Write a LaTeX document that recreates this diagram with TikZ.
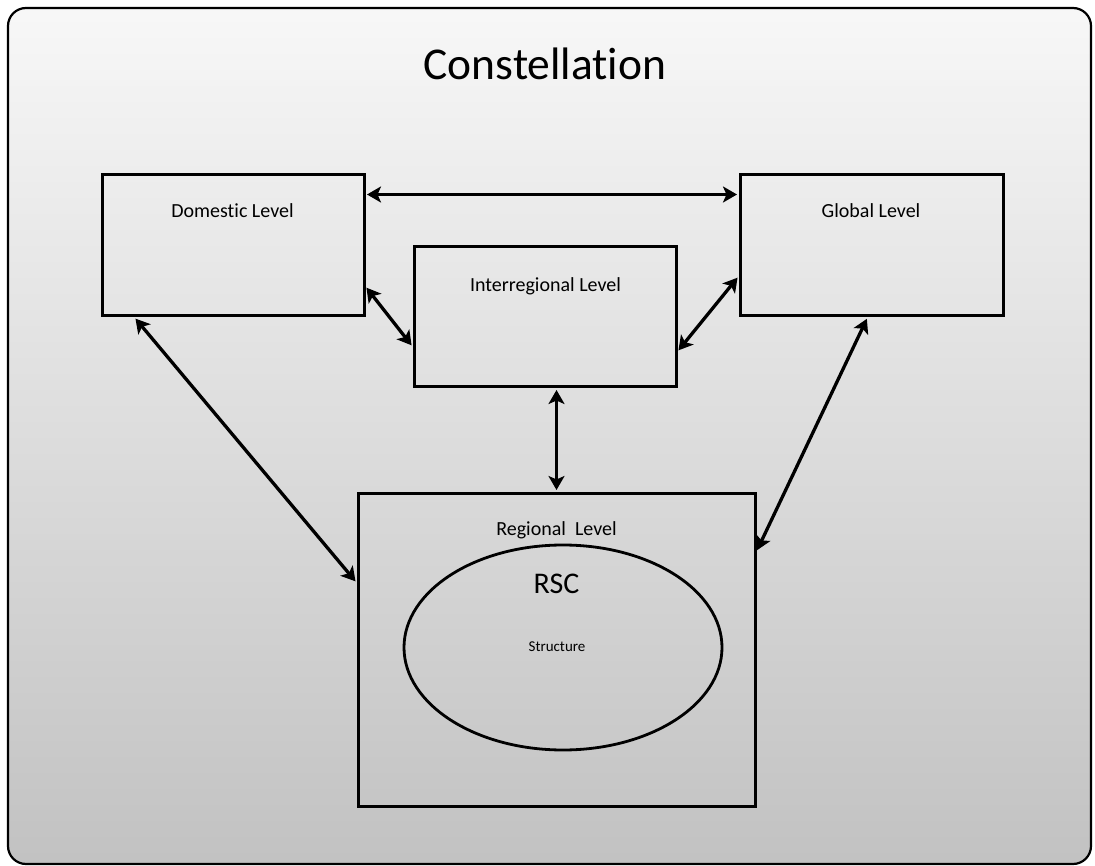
\documentclass[tikz,border=0pt]{standalone}
\usepackage{fontspec}
\setmainfont[Ligatures=NoCommon]{Carlito}
\usetikzlibrary{arrows.meta,shapes.geometric}
\begin{document}
\begin{tikzpicture}[x=1pt,y=-1pt,
  levelbox/.style={draw=black,line width=3pt,rectangle,inner sep=0pt},
  lbl/.style={anchor=base,inner sep=0pt,font=\fontsize{20}{21}\selectfont},
  link/.style={line width=3.3pt,{Stealth[length=14pt,width=16pt,inset=3.5pt]}-{Stealth[length=14pt,width=16pt,inset=3.5pt]},shorten <=1.5pt,shorten >=1.5pt}]
\useasboundingbox (0,0) rectangle (1095,866);
\shade[top color=black!3,bottom color=black!24,rounded corners=18pt] (8,8) rectangle (1091,864);
\draw[line width=2.2pt,rounded corners=18pt] (8,8) rectangle (1091,864);
\node[anchor=base,inner sep=0pt,font=\fontsize{45.5}{46}\selectfont] (title) at (545,80) {Constellation};
% boxes
\node[levelbox,minimum width=262pt,minimum height=141pt] (dom) at (233,245.5) {};
\node[levelbox,minimum width=263pt,minimum height=141pt] (glob) at (871.5,245.5) {};
\node[levelbox,minimum width=262pt,minimum height=140pt] (inter) at (545,317) {};
\node[levelbox,minimum width=397pt,minimum height=313pt] (reg) at (556.5,649.5) {};
\node[draw=black,line width=2.8pt,ellipse,inner sep=0pt,minimum width=318pt,minimum height=205pt] (rsc) at (563,647.5) {};
% labels
\node[lbl] (domlbl) at (232.5,218) {Domestic Level};
\node[lbl] (globlbl) at (871,218) {Global Level};
\node[lbl] (interlbl) at (545.5,292) {Interregional Level};
\node[lbl] (reglbl) at (556.5,535) {Regional\ \ Level};
\node[anchor=base,inner sep=0pt,font=\fontsize{30}{31}\selectfont] (rsclbl) at (556.5,593) {RSC};
\node[anchor=base,inner sep=0pt,font=\fontsize{15}{16}\selectfont] (strlbl) at (557,651) {Structure};
% connectors
\draw[link] ([yshift=-21pt]dom.north east) -- ([yshift=-21pt]glob.north west);
\draw[link] ([yshift=-113pt]dom.north east) -- ([yshift=-101pt]inter.north west);
\draw[link] ([yshift=-103pt]glob.north west) -- ([yshift=-106pt]inter.north east);
\draw[link] (inter.south -| reg.north) -- (reg.north);
\draw[link] ([xshift=34pt]dom.south west) -- ([yshift=-91pt]reg.north west);
\draw[link] ([xshift=129pt]glob.south west) -- ([yshift=-60pt]reg.north east);
\end{tikzpicture}
\end{document}
